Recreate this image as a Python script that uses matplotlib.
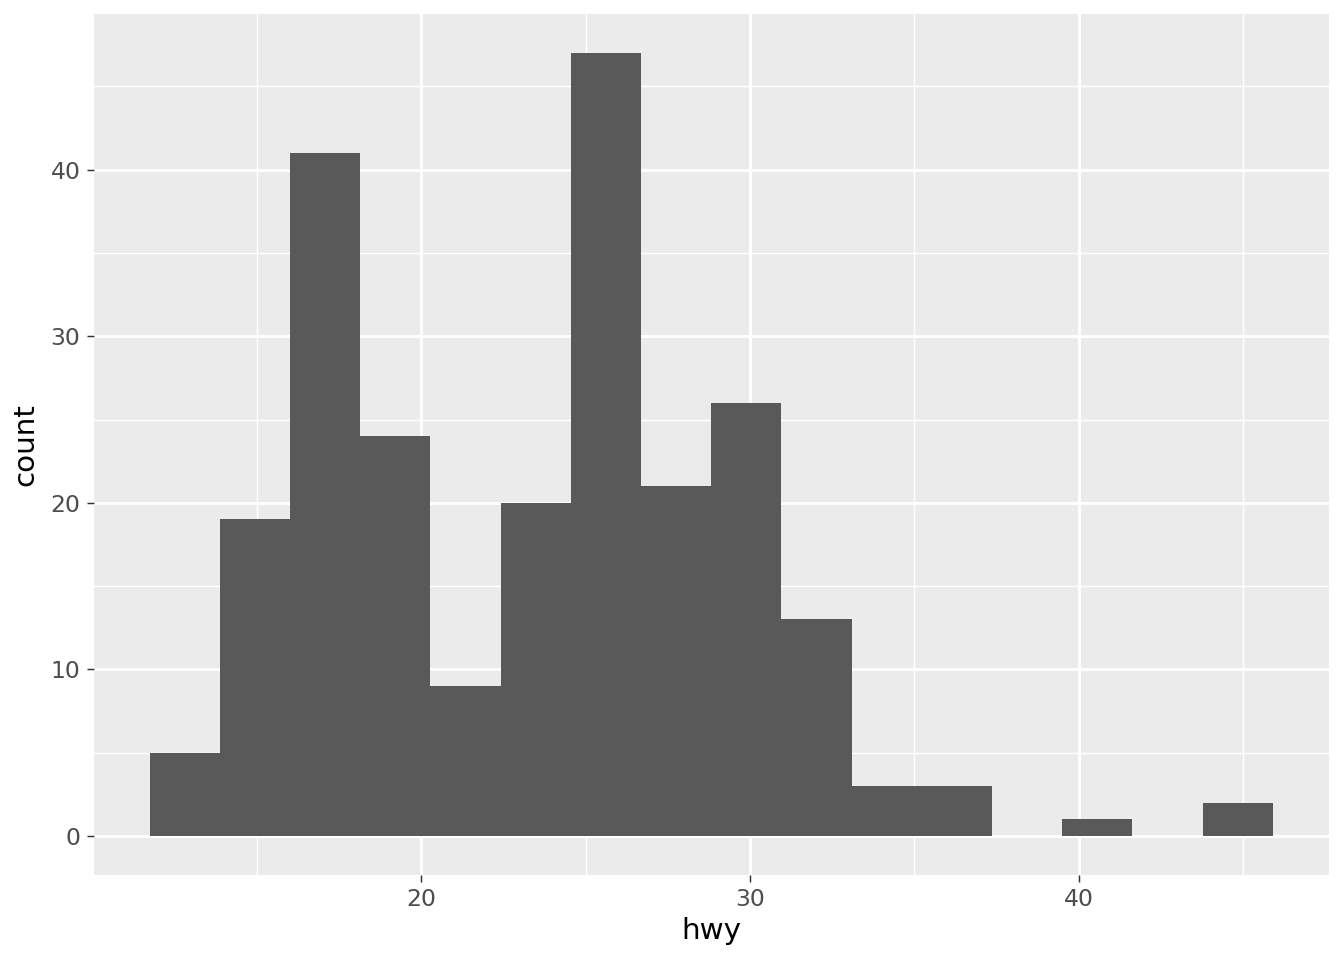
import matplotlib
matplotlib.use("Agg")
import matplotlib.pyplot as plt
import numpy as np

# Data (hwy)
counts = [5, 19, 41, 24, 9, 20, 47, 21, 26, 13, 3, 3, 0, 1, 0, 2]
bin_start = 11.73
bin_width = 2.136
x_ticks = [20, 30, 40]
x_minor = [15, 25, 35, 45]
y_ticks = [0, 10, 20, 30, 40]
y_minor = [5, 15, 25, 35, 45]

edges = bin_start + bin_width * np.arange(len(counts) + 1)

fig = plt.figure(figsize=(7, 5), dpi=192)
ax = fig.add_axes([93.5/1344, 85/960, (1329-93.5)/1344, (875-14)/960])
ax.set_facecolor("#EBEBEB")

ax.bar(edges[:-1], counts, width=bin_width, align="edge",
       color="#595959", linewidth=0, zorder=3)

xr = edges[-1] - edges[0]
ax.set_xlim(edges[0] - 0.05 * xr, edges[-1] + 0.05 * xr)
ymax = max(counts)
ax.set_ylim(-0.05 * ymax, ymax * 1.05)

ax.set_xticks(x_ticks)
ax.set_xticks(x_minor, minor=True)
ax.set_yticks(y_ticks)
ax.set_yticks(y_minor, minor=True)

ax.grid(which="major", color="white", linewidth=1.1, zorder=1)
ax.grid(which="minor", color="white", linewidth=0.55, zorder=1)
ax.set_axisbelow(True)

for s in ax.spines.values():
    s.set_visible(False)

ax.tick_params(which="major", length=2.75, width=0.55, color="#333333",
               labelcolor="#4D4D4D", labelsize=8.8, pad=2.2)
ax.tick_params(which="minor", length=0)

ax.set_xlabel("hwy", fontsize=11, color="black", labelpad=2)
ax.set_ylabel("count", fontsize=11, color="black", labelpad=4)

fig.savefig("out.png", dpi=192, facecolor="white")
